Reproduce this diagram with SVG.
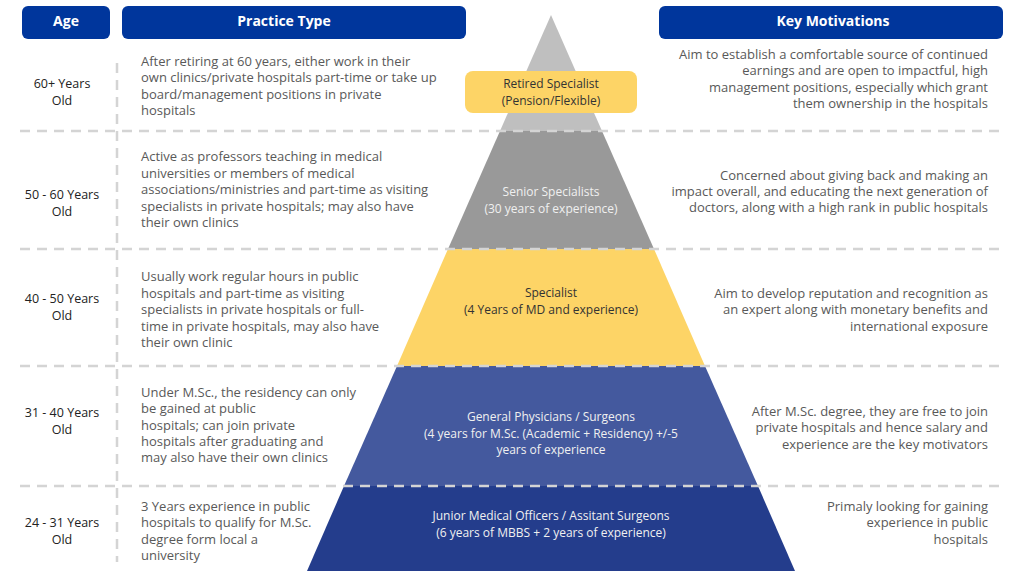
<svg xmlns="http://www.w3.org/2000/svg" width="1012" height="571" viewBox="0 0 1012 571">
<style>
.hdr{fill:#00369c}
.ht{font-family:"Open Sans","Liberation Sans",sans-serif;font-weight:bold;font-size:14px;fill:#fff;text-anchor:middle}
.age{font-family:"Open Sans","Liberation Sans",sans-serif;font-size:12.5px;fill:#222;text-anchor:middle}
.pt{font-family:"Open Sans","Liberation Sans",sans-serif;font-size:13px;fill:#595959}
.km{font-family:"Open Sans","Liberation Sans",sans-serif;font-size:13px;fill:#595959;text-anchor:end}
.py{font-family:"Open Sans","Liberation Sans",sans-serif;font-size:12px;text-anchor:middle}
.dk{fill:#333}
.lt{fill:#f0f0f0}
.dash{stroke:#d4d4d4;stroke-width:2.5;stroke-dasharray:10 7;fill:none}
</style>
<rect width="1012" height="571" fill="#fff"/>
<g id="headers">
<g id="hdr-age"><rect class="hdr" x="22" y="6" width="88" height="33" rx="6"/><text class="ht" x="66" y="26">Age</text></g>
<g id="hdr-practice"><rect class="hdr" x="122" y="6" width="344" height="33" rx="6"/><text class="ht" x="284" y="26">Practice Type</text></g>
<g id="hdr-motivations"><rect class="hdr" x="659" y="6" width="344" height="33" rx="6"/><text class="ht" x="833" y="26">Key Motivations</text></g>
</g>
<g id="pyramid">
<g id="tier-retired"><polygon points="551,15 602,131 500,131" fill="#bfbfbf"/>
<rect x="465" y="71" width="172" height="42" rx="8" fill="#fdd466"/>
<text class="py dk" x="551" y="88">Retired Specialist<tspan x="551" dy="16.5">(Pension/Flexible)</tspan></text></g>
<g id="tier-senior"><polygon points="500,131 602,131 654,249 448,249" fill="#999999"/>
<text class="py lt" x="551" y="196">Senior Specialists<tspan x="551" dy="16.5">(30 years of experience)</tspan></text></g>
<g id="tier-specialist"><polygon points="448,249 654,249 705,366 397,366" fill="#fdd466"/>
<text class="py dk" x="551" y="297">Specialist<tspan x="551" dy="16.5">(4 Years of MD and experience)</tspan></text></g>
<g id="tier-gp"><polygon points="397,366 705,366 758,486 344,486" fill="#44599e"/>
<text class="py lt" x="551" y="421">General Physicians / Surgeons<tspan x="551" dy="16.5">(4 years for M.Sc. (Academic + Residency) +/-5</tspan><tspan x="551" dy="16.5">years of experience</tspan></text></g>
<g id="tier-junior"><polygon points="344,486 758,486 795,571 307,571" fill="#243d8c"/>
<text class="py lt" x="551" y="520">Junior Medical Officers / Assitant Surgeons<tspan x="551" dy="16.5">(6 years of MBBS + 2 years of experience)</tspan></text></g>
</g>
<g id="dividers">
<line class="dash" x1="20" y1="131" x2="1003" y2="131"/>
<line class="dash" x1="20" y1="249" x2="1003" y2="249"/>
<line class="dash" x1="20" y1="366" x2="1003" y2="366"/>
<line class="dash" x1="20" y1="486" x2="1003" y2="486"/>
<line class="dash" x1="117" y1="63" x2="117" y2="562"/>
</g>
<g id="row-60">
<text class="age" x="62" y="88">60+ Years<tspan x="62" dy="17">Old</tspan></text>
<text class="pt" x="141" y="66">After retiring at 60 years, either work in their<tspan x="141" dy="16.3">own clinics/private hospitals part-time or take up</tspan><tspan x="141" dy="16.3">board/management positions in private</tspan><tspan x="141" dy="16.3">hospitals</tspan></text>
<text class="km" x="988" y="59">Aim to establish a comfortable source of continued<tspan x="988" dy="16.3">earnings and are open to impactful, high</tspan><tspan x="988" dy="16.3">management positions, especially which grant</tspan><tspan x="988" dy="16.3">them ownership in the hospitals</tspan></text>
</g>
<g id="row-50">
<text class="age" x="62" y="199">50 - 60 Years<tspan x="62" dy="17">Old</tspan></text>
<text class="pt" x="141" y="161">Active as professors teaching in medical<tspan x="141" dy="16.5">universities or members of medical</tspan><tspan x="141" dy="16.5">associations/ministries and part-time as visiting</tspan><tspan x="141" dy="16.5">specialists in private hospitals; may also have</tspan><tspan x="141" dy="16.5">their own clinics</tspan></text>
<text class="km" x="988" y="179.5">Concerned about giving back and making an<tspan x="988" dy="16.3">impact overall, and educating the next generation of</tspan><tspan x="988" dy="16.3">doctors, along with a high rank in public hospitals</tspan></text>
</g>
<g id="row-40">
<text class="age" x="62" y="303">40 - 50 Years<tspan x="62" dy="17">Old</tspan></text>
<text class="pt" x="141" y="281">Usually work regular hours in public<tspan x="141" dy="16.5">hospitals and part-time as visiting</tspan><tspan x="141" dy="16.5">specialists in private hospitals or full-</tspan><tspan x="141" dy="16.5">time in private hospitals, may also have</tspan><tspan x="141" dy="16.5">their own clinic</tspan></text>
<text class="km" x="988" y="298">Aim to develop reputation and recognition as<tspan x="988" dy="16.3">an expert along with monetary benefits and</tspan><tspan x="988" dy="16.3">international exposure</tspan></text>
</g>
<g id="row-31">
<text class="age" x="62" y="417">31 - 40 Years<tspan x="62" dy="17">Old</tspan></text>
<text class="pt" x="141" y="397">Under M.Sc., the residency can only<tspan x="141" dy="16.3">be gained at public</tspan><tspan x="141" dy="16.3">hospitals; can join private</tspan><tspan x="141" dy="16.3">hospitals after graduating and</tspan><tspan x="141" dy="16.3">may also have their own clinics</tspan></text>
<text class="km" x="988" y="416">After M.Sc. degree, they are free to join<tspan x="988" dy="16.3">private hospitals and hence salary and</tspan><tspan x="988" dy="16.3">experience are the key motivators</tspan></text>
</g>
<g id="row-24">
<text class="age" x="62" y="527">24 - 31 Years<tspan x="62" dy="17">Old</tspan></text>
<text class="pt" x="141" y="511">3 Years experience in public<tspan x="141" dy="16.3">hospitals to qualify for M.Sc.</tspan><tspan x="141" dy="16.3">degree form local a</tspan><tspan x="141" dy="16.3">university</tspan></text>
<text class="km" x="988" y="511">Primaly looking for gaining<tspan x="988" dy="16.3">experience in public</tspan><tspan x="988" dy="16.3">hospitals</tspan></text>
</g>
</svg>
